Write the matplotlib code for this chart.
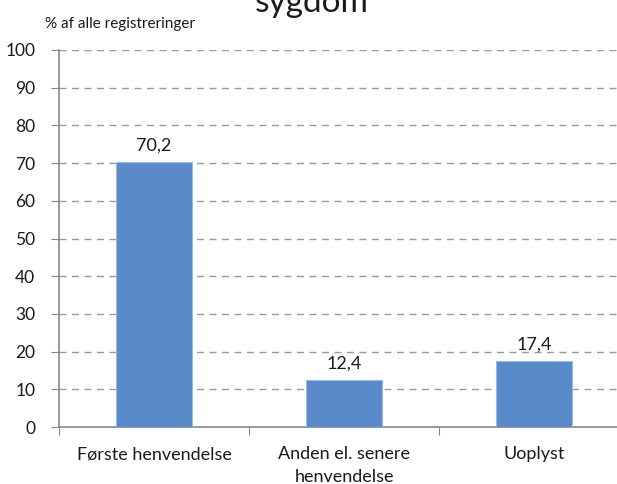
import matplotlib
matplotlib.use("Agg")
import matplotlib.pyplot as plt
import numpy as np

plt.rcParams['font.family'] = ['Lato', 'DejaVu Sans']

categories = ["Første henvendelse", "Anden el. senere\nhenvendelse", "Uoplyst"]
values = [70.2, 12.4, 17.4]
labels = ["70,2", "12,4", "17,4"]
yticks = [0, 10, 20, 30, 40, 50, 60, 70, 80, 90, 100]

fig = plt.figure(figsize=(6.17, 4.84), dpi=100)
ax = fig.add_axes([59/617, 57/484, 570/617, 377/484])

x = np.arange(len(categories))
ax.bar(x, values, width=0.405, color="#5a8ac9", edgecolor="#9cb9e0", linewidth=0.8, zorder=3)

for xi, v, lab in zip(x, values, labels):
    ax.text(xi, v + 2.2, lab, ha="center", va="bottom", fontsize=13, color="#1a1a1a", zorder=4)

ax.set_xlim(-0.5, len(categories) - 0.5)
ax.set_ylim(0, 100)
ax.set_yticks(yticks)
ax.set_yticklabels([str(t) for t in yticks], fontsize=12.5, color="#1a1a1a")
ax.yaxis.grid(True, linestyle=(0, (5, 4)), color="#999999", linewidth=1.0, zorder=0)
ax.set_axisbelow(True)

# category labels between boundary ticks
ax.set_xticks(np.arange(-0.5, len(categories), 1.0))
ax.set_xticklabels([])
ax.set_xticks(x, minor=True)
ax.set_xticklabels(categories, minor=True, fontsize=13, color="#1a1a1a", linespacing=1.5)
ax.tick_params(axis="x", which="minor", length=0, pad=14)
ax.tick_params(axis="x", which="major", length=6, color="#888888", direction="out")
ax.tick_params(axis="y", length=6, color="#888888", direction="out", pad=11)

for s in ["top", "right"]:
    ax.spines[s].set_visible(False)
for s in ["left", "bottom"]:
    ax.spines[s].set_color("#888888")
    ax.spines[s].set_linewidth(1.2)

fig.text(45/617, 1 - 28/484, "% af alle registreringer", fontsize=11, color="#1a1a1a", va="baseline")
fig.text(312/617, 1 - 12/484, "sygdom", fontsize=24, color="#1a1a1a", ha="center", va="baseline")

fig.savefig("out.png", dpi=100)
